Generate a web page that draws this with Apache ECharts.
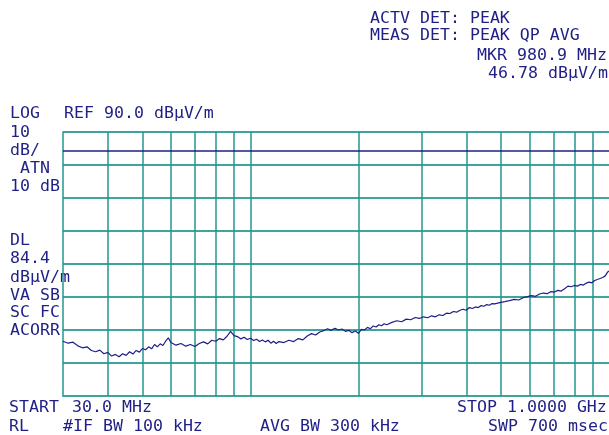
<!DOCTYPE html>
<html>
<head>
<meta charset="utf-8">
<script src="https://cdn.jsdelivr.net/npm/echarts@6/dist/echarts.min.js"></script>
<style>
  html, body { margin: 0; padding: 0; background: #ffffff; }
  #chart { width: 609px; height: 435px; }
</style>
</head>
<body>
<div id="chart"></div>
<script>
// Sweep frequencies (MHz) and measured level (dBµV/m), 30 MHz to 1 GHz
const freqMHz = [
  30, 31, 32, 33, 34, 35, 36, 37, 38, 39, 40, 41, 42, 43, 44, 45, 46, 47, 48, 49,
  50, 51, 52, 53, 54, 55, 56, 57, 58, 59, 60,
  62, 64, 66, 68, 70, 72, 74, 76, 78, 80, 82, 84, 86, 88, 90, 92, 94, 96, 98,
  100, 102, 104, 106, 108, 110, 112, 114, 116, 118, 120,
  124, 128, 132, 136, 140, 144, 148, 152, 156, 160, 164, 168, 172, 176, 180,
  184, 188, 192, 196, 200, 204, 208, 212, 216, 220, 224, 228, 232, 236, 240,
  248, 256, 264, 272, 280, 288, 296, 304, 312, 320, 328, 336, 344, 352, 360,
  368, 376, 384, 392, 400, 408, 416, 424, 432, 440, 448, 456, 464, 472, 480,
  496, 512, 528, 544, 560, 576, 592, 608, 624, 640, 656, 672, 688, 704, 720,
  736, 752, 768, 784, 800, 816, 832, 848, 864, 880, 896, 912, 928, 944, 960,
  976, 980.9, 992, 1000
];
const levelDbuV = [
  26.6, 26.0, 26.3, 25.2, 24.6, 24.9, 23.8, 23.4, 23.9, 22.8, 23.2, 22.1, 22.6, 21.9, 22.8, 22.3, 23.4, 22.7, 23.8, 23.3,
  24.4, 24.0, 24.9, 24.3, 25.6, 24.9, 25.8, 25.3, 26.6, 27.6, 26.2,
  25.4, 25.9, 25.1, 25.6, 25.0, 25.9, 26.4, 25.8, 26.9, 26.6, 27.4, 27.0, 28.1, 29.6, 28.3, 28.0, 27.3, 27.8, 27.1,
  27.5, 26.8, 27.2, 26.5, 27.0, 26.4, 26.9, 26.0, 26.6, 25.9, 26.5,
  26.2, 26.9, 26.5, 27.4, 27.0, 28.2, 28.9, 28.5, 29.4, 29.8, 30.4, 29.9, 30.5, 30.0, 30.3,
  29.6, 29.9, 29.2, 29.7, 29.0, 30.2, 30.0, 30.8, 30.4, 31.2, 30.9, 31.6, 31.3, 31.9, 31.6,
  32.3, 32.8, 32.5, 33.3, 33.1, 33.8, 33.5, 34.0, 33.7, 34.3, 34.0, 34.6, 34.4, 35.1, 35.0,
  35.6, 35.4, 36.0, 36.3, 36.0, 36.8, 36.5, 37.0, 36.8, 37.4, 37.2, 37.7, 37.5, 38.0, 37.9,
  38.3, 38.6, 38.9, 39.3, 39.1, 39.8, 40.1, 40.4, 40.2, 40.9, 41.2, 41.0, 41.6, 41.5, 42.0,
  41.8, 42.5, 43.3, 43.1, 43.5, 43.3, 43.8, 43.6, 44.2, 44.5, 44.3, 45.0, 45.3, 45.6, 45.9,
  46.4, 46.78, 47.6, 47.9
];

// Log-frequency graticule lines (MHz)
const freqGridMHz = [40, 50, 60, 70, 80, 90, 100, 200, 300, 400, 500, 600, 700, 800, 900];
// Amplitude scale: reference level, 10 dB/div, display line
const refLevel = 90;
const bottomLevel = 10;
const dbPerDiv = 10;
const displayLine = 84.4;

// Annotation text blocks
const annotations = [
  { text: 'ACTV DET: PEAK', x: 370, y: 19 },
  { text: 'MEAS DET: PEAK QP AVG', x: 370, y: 36 },
  { text: 'MKR 980.9 MHz', x: 477, y: 56 },
  { text: '46.78 dBµV/m', x: 488, y: 74 },
  { text: 'LOG', x: 10, y: 114 },
  { text: 'REF 90.0 dBµV/m', x: 64, y: 114 },
  { text: '10', x: 10, y: 133 },
  { text: 'dB/', x: 10, y: 151 },
  { text: 'ATN', x: 20, y: 169 },
  { text: '10 dB', x: 10, y: 187 },
  { text: 'DL', x: 10, y: 241 },
  { text: '84.4', x: 10, y: 259 },
  { text: 'dBµV/m', x: 10, y: 278 },
  { text: 'VA SB', x: 10, y: 296 },
  { text: 'SC FC', x: 10, y: 313 },
  { text: 'ACORR', x: 10, y: 331 },
  { text: 'START', x: 9, y: 408 },
  { text: '30.0 MHz', x: 72, y: 408 },
  { text: 'STOP 1.0000 GHz', x: 457, y: 408 },
  { text: 'RL', x: 9, y: 427 },
  { text: '#IF BW 100 kHz', x: 63, y: 427 },
  { text: 'AVG BW 300 kHz', x: 260, y: 427 },
  { text: 'SWP 700 msec', x: 488, y: 427 }
];

const INK = '#1f1f86';
const GRID_H = '#3da59e';
const GRID_V = '#23978f';
const FONT = '16.6px "DejaVu Sans Mono", "Liberation Mono", monospace';

const chart = echarts.init(document.getElementById('chart'), null, { renderer: 'canvas' });

const option = {
  animation: false,
  backgroundColor: '#ffffff',
  grid: { left: 63, top: 132, right: -2, bottom: 39, containLabel: false },
  xAxis: {
    type: 'log',
    logBase: 10,
    min: 30,
    max: 1000,
    axisLabel: { show: false },
    axisTick: { show: false },
    splitLine: { show: false },
    axisLine: { show: true, lineStyle: { color: GRID_H, width: 2 } }
  },
  yAxis: {
    type: 'value',
    min: bottomLevel,
    max: refLevel,
    interval: dbPerDiv,
    axisLabel: { show: false },
    axisTick: { show: false },
    axisLine: { show: true, lineStyle: { color: GRID_V, width: 1.5 } },
    splitLine: { show: true, lineStyle: { color: GRID_H, width: 2 } }
  },
  series: [
    {
      // graticule + display line
      type: 'line',
      z: 1,
      data: [],
      silent: true,
      markLine: {
        silent: true,
        symbol: ['none', 'none'],
        label: { show: false },
        animation: false,
        data: freqGridMHz.map(f => ({ xAxis: f, lineStyle: { color: GRID_V, width: 1.5, type: 'solid' } }))
          .concat([{ yAxis: displayLine, lineStyle: { color: INK, width: 1.5, type: 'solid' } }])
      }
    },
    {
      type: 'line',
      z: 5,
      data: freqMHz.map((f, i) => [f, levelDbuV[i]]),
      showSymbol: false,
      symbol: 'none',
      lineStyle: { color: INK, width: 1.2 },
      silent: true
    }
  ],
  graphic: annotations.map(a => ({
    type: 'text',
    x: a.x,
    y: a.y,
    silent: true,
    style: { text: a.text, font: FONT, fill: INK, verticalAlign: 'middle', align: 'left' }
  }))
};

chart.setOption(option);
</script>
</body>
</html>
